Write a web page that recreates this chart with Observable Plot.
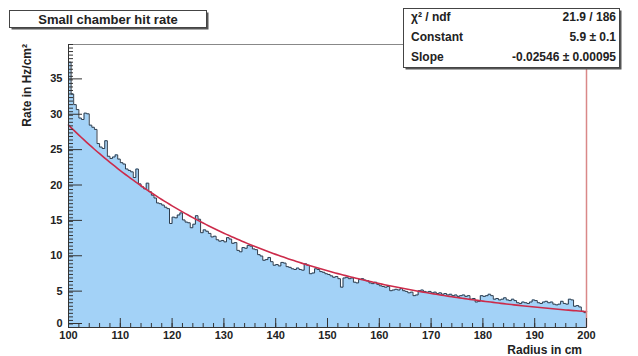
<!DOCTYPE html>
<html>
<head>
<meta charset="utf-8">
<script src="https://cdn.jsdelivr.net/npm/d3@7"></script>
<script src="https://cdn.jsdelivr.net/npm/@observablehq/plot@0.6"></script>
<style>
  html, body { margin: 0; padding: 0; background: #fff; }
  #chart svg { display: block; }
</style>
</head>
<body>
<div id="chart"></div>
<script>
// Histogram range (cm) and per-bin hit rate (Hz/cm²), 0.5 cm bins from 100 to 200 cm
const radiusMin = 100;
const radiusMax = 200;
const rate = [
  37.5, 33.0, 31.5, 30.8, 29.6, 29.4, 30.3, 30.2, 28.6, 28.3,
  28.0, 26.0, 25.5, 25.3, 26.4, 24.2, 23.9, 24.1, 24.4, 23.8,
  23.3, 23.1, 22.4, 22.2, 22.0, 21.2, 22.4, 20.3, 19.9, 19.6,
  20.4, 19.2, 18.7, 18.3, 17.6, 17.5, 17.3, 17.0, 16.8, 14.7,
  15.6, 15.5, 15.9, 16.2, 15.2, 14.9, 14.8, 14.1, 14.6, 15.8,
  15.3, 13.4, 13.8, 13.6, 13.3, 12.8, 12.9, 12.4, 12.2, 12.3,
  12.1, 12.7, 12.5, 11.9, 12.0, 10.9, 10.7, 11.3, 11.2, 11.6,
  11.5, 11.1, 11.0, 10.3, 10.1, 9.5, 9.6, 9.9, 9.3, 8.8,
  8.9, 8.7, 9.2, 9.1, 8.6, 8.5, 8.3, 8.2, 8.4, 8.2,
  8.1, 9.0, 8.8, 7.6, 7.7, 8.3, 8.2, 7.9, 7.8, 7.6,
  7.5, 7.3, 7.1, 7.2, 6.9, 5.7, 7.0, 7.1, 6.9, 7.0,
  6.4, 6.3, 6.8, 6.9, 6.7, 6.6, 6.3, 6.2, 6.4, 6.1,
  5.9, 5.8, 5.7, 5.8, 5.2, 5.3, 5.4, 5.3, 5.5, 5.2,
  5.1, 4.9, 5.0, 4.5, 4.6, 5.2, 5.3, 5.1, 5.0, 5.1,
  4.9, 5.0, 4.8, 4.9, 4.7, 4.8, 4.6, 4.7, 4.5, 4.6,
  4.4, 4.5, 4.6, 4.4, 4.5, 4.0, 4.1, 3.6, 3.7, 4.5,
  4.4, 4.5, 4.7, 4.5, 4.0, 4.1, 3.9, 4.0, 4.2, 3.9,
  3.8, 4.0, 3.8, 3.5, 3.4, 3.6, 3.5, 3.4, 3.6, 3.9,
  3.8, 3.5, 3.4, 3.6, 3.7, 3.5, 3.6, 3.3, 3.2, 3.3,
  3.7, 3.4, 3.3, 4.0, 3.9, 3.0, 3.1, 2.9, 2.3, 2.1
];

// Exponential fit expo(Constant + Slope * x) and its summary
const fitConstant = 5.9;
const fitSlope = -0.02546;
const statsRows = [
  ["χ² / ndf", "21.9 / 186"],
  ["Constant", "5.9 ± 0.1"],
  ["Slope", "-0.02546 ± 0.00095"]
];

const titleText = "Small chamber hit rate";
const xTitle = "Radius in cm";
const yTitle = "Rate in Hz/cm²";
const xMajor = d3.range(100, 201, 10);
const xMinor = d3.range(100, 201, 2);
const yMajor = d3.range(5, 36, 5);
const yZero = [0];
const yMinor = d3.range(0, 40.01, 0.5);
const yMax = 40;

// Stepped outline of the histogram (also used for the filled area)
const binWidth = (radiusMax - radiusMin) / rate.length;
const outline = [{x: radiusMin, y: 0}]
  .concat(rate.map((v, i) => ({x: radiusMin + i * binWidth, y: v})))
  .concat([{x: radiusMax, y: rate[rate.length - 1]}, {x: radiusMax, y: 0}]);

// Fit curve sampled along the radius range
const fitCurve = d3.range(radiusMin, radiusMax + 0.001, 0.5)
  .map(x => ({x, y: Math.exp(fitConstant + fitSlope * x)}));

const fontFamily = "'Liberation Sans', Arial, Helvetica, sans-serif";

const chart = Plot.plot({
  width: 638,
  height: 356,
  marginLeft: 68,
  marginRight: 52,
  marginTop: 44,
  marginBottom: 29,
  style: {fontFamily, fontSize: "11px", fontWeight: "bold", color: "#222", background: "#fff"},
  x: {domain: [radiusMin, radiusMax]},
  y: {domain: [0, yMax]},
  marks: [
    Plot.areaY(outline, {x: "x", y: "y", curve: "step-after", fill: "#a3d2f7"}),
    Plot.line(outline, {x: "x", y: "y", curve: "step-after", stroke: "#2e3d4d", strokeWidth: 1}),
    Plot.line(fitCurve, {x: "x", y: "y", stroke: "#cc2b4a", strokeWidth: 1.6}),
    Plot.ruleY([yMax], {stroke: "#888", strokeWidth: 1}),
    Plot.ruleX([radiusMax], {stroke: "#d98888", strokeWidth: 1.5}),
    Plot.ruleX([radiusMin], {stroke: "#333", strokeWidth: 1}),
    Plot.ruleY([0], {stroke: "#333", strokeWidth: 1}),
    Plot.axisX(xMinor, {tickSize: -4, fill: "none", stroke: "#333"}),
    Plot.axisX(xMajor, {tickSize: -9, tickPadding: 13, label: null, stroke: "#333", fill: "#222"}),
    Plot.axisY(yMinor, {tickSize: -5, fill: "none", stroke: "#333"}),
    Plot.axisY(yMajor, {tickSize: -14, tickPadding: 20, dy: -1, label: null, stroke: "#333", fill: "#222"}),
    // the zero label sits a little higher so it clears the first radius label
    Plot.axisY(yZero, {tickSize: -14, tickPadding: 20, dy: -4, label: null, stroke: "#333", fill: "#222"})
  ]
});

document.getElementById("chart").appendChild(chart);

// Pave boxes and axis titles drawn on top of the frame
const svg = d3.select(chart);

function pave(x, y, w, h) {
  const g = svg.append("g");
  g.append("rect").attr("x", x + 2).attr("y", y + 2).attr("width", w).attr("height", h).attr("fill", "#555");
  g.append("rect").attr("x", x).attr("y", y).attr("width", w).attr("height", h)
    .attr("fill", "#fff").attr("stroke", "#444").attr("stroke-width", 1);
  return g;
}

const t = pave(9.5, 10.5, 197, 17);
t.append("text").attr("x", 9.5 + 197 / 2).attr("y", 23.5).attr("text-anchor", "middle")
  .style("font-size", "13px").attr("fill", "#222").text(titleText);

const s = pave(403.5, 8.5, 216, 59);
statsRows.forEach(([k, v], i) => {
  const y = 21 + i * 20;
  s.append("text").attr("x", 411).attr("y", y).attr("text-anchor", "start")
    .style("font-size", "12px").attr("fill", "#222").text(k);
  s.append("text").attr("x", 616).attr("y", y).attr("text-anchor", "end")
    .style("font-size", "12px").attr("fill", "#222").text(v);
});

svg.append("text").attr("transform", "translate(31,44) rotate(-90)").attr("text-anchor", "end")
  .style("font-size", "12px").attr("fill", "#222").text(yTitle);
svg.append("text").attr("x", 582).attr("y", 354).attr("text-anchor", "end")
  .style("font-size", "12px").attr("fill", "#222").text(xTitle);
</script>
</body>
</html>
